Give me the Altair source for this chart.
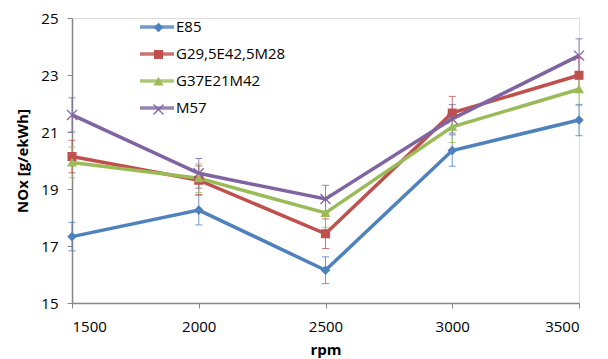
import altair as alt
import pandas as pd

rpm = [1500, 2000, 2500, 3000, 3500]
series = ["E85", "G29,5E42,5M28", "G37E21M42", "M57"]
e85 = [17.33, 18.26, 16.15, 20.35, 21.42]
g29 = [20.14, 19.31, 17.43, 21.67, 22.99]
g37 = [19.93, 19.38, 18.16, 21.18, 22.50]
m57 = [21.60, 19.55, 18.65, 21.46, 23.68]
e85_err = [0.50, 0.52, 0.47, 0.55, 0.55]
g29_err = [0.57, 0.50, 0.52, 0.58, 0.60]
g37_err = [0.54, 0.50, 0.50, 0.55, 0.58]
m57_err = [0.60, 0.52, 0.48, 0.50, 0.59]
y_ticks = [15, 17, 19, 21, 23, 25]
colors = ["#4F81BD", "#C0504D", "#9BBB59", "#8064A2"]
shapes = ["diamond", "square", "triangle-up", "M-1.3,-1.3L1.3,1.3M-1.3,1.3L1.3,-1.3"]

# marker keys (distinct from line keys so the two legends stay separate)
marker_keys = [s + " " for s in series]

rows = []
for name, mk, vals, errs in zip(series, marker_keys, [e85, g29, g37, m57],
                                [e85_err, g29_err, g37_err, m57_err]):
    for r, v, e in zip(rpm, vals, errs):
        rows.append({"rpm": r, "nox": v, "lo": v - e, "hi": v + e,
                     "series": name, "series2": mk})
df = pd.DataFrame(rows)

FONT = "Open Sans"
GRAY = "#868686"

cscale = alt.Scale(domain=series, range=colors)

x = alt.X("rpm:Q", scale=alt.Scale(domain=[1500, 3500], nice=False, zero=False),
          axis=alt.Axis(values=rpm, format="d", title="rpm", grid=False,
                        domainColor=GRAY, tickColor=GRAY, tickSize=5, domainWidth=1.5,
                        labelFont=FONT, labelFontSize=15, labelColor="black", labelPadding=11,
                        titleFont=FONT, titleFontSize=15, titleFontWeight="bold",
                        titleColor="black", titlePadding=8))
y_axis = alt.Axis(values=y_ticks, title="NOx [g/ekWh]", grid=False,
                  domainColor=GRAY, tickColor=GRAY, tickSize=5, domainWidth=1.5,
                  labelFont=FONT, labelFontSize=15, labelColor="black", labelPadding=9,
                  titleFont=FONT, titleFontSize=15, titleFontWeight="bold",
                  titleColor="black", titlePadding=10)
yscale = alt.Scale(domain=[15, 25], nice=False, zero=False)

base = alt.Chart(df)

err_rule = base.mark_rule(strokeWidth=1, opacity=0.8).encode(
    x=x,
    y=alt.Y("lo:Q", scale=yscale, axis=y_axis),
    y2="hi:Q",
    color=alt.Color("series:N", scale=cscale),
)
cap_lo = base.mark_tick(orient="horizontal", size=7, thickness=1, opacity=0.8).encode(
    x=x, y=alt.Y("lo:Q", scale=yscale, axis=y_axis),
    color=alt.Color("series:N", scale=cscale),
)
cap_hi = base.mark_tick(orient="horizontal", size=7, thickness=1, opacity=0.8).encode(
    x=x, y=alt.Y("hi:Q", scale=yscale, axis=y_axis),
    color=alt.Color("series:N", scale=cscale),
)

lines = base.mark_line(strokeWidth=3.5).encode(
    x=x,
    y=alt.Y("nox:Q", scale=yscale, axis=y_axis),
    color=alt.Color("series:N", scale=cscale,
                    legend=alt.Legend(title=None, orient="none", legendX=66, legendY=-10,
                                      symbolType="stroke", symbolSize=1156,
                                      symbolStrokeWidth=3.5, labelFont=FONT,
                                      labelFontSize=15, labelColor="black",
                                      labelOffset=0, rowPadding=0, padding=0)),
)

mleg = alt.Legend(title=None, orient="none", legendX=79, legendY=2,
                  symbolSize=60, symbolStrokeWidth=1.3, labelFont=FONT,
                  labelFontSize=15, labelExpr="' '", labelOffset=3,
                  rowPadding=11, padding=0)
mscale_c = alt.Scale(domain=marker_keys, range=colors)
points = base.mark_point(filled=True, size=60, strokeWidth=1.3, opacity=1).encode(
    x=x,
    y=alt.Y("nox:Q", scale=yscale, axis=y_axis),
    fill=alt.Fill("series2:N", scale=mscale_c, legend=mleg),
    stroke=alt.Stroke("series2:N", scale=mscale_c, legend=mleg),
    shape=alt.Shape("series2:N", scale=alt.Scale(domain=marker_keys, range=shapes), legend=mleg),
)

chart = alt.layer(err_rule, cap_lo, cap_hi, lines, points).properties(
    width=507, height=285,
    autosize=alt.AutoSizeParams(type="none"),
    padding={"left": 64, "top": 10, "right": 21, "bottom": 56},
).configure_view(stroke=None).configure(background="white")

chart.save("out.html", embed_options={"renderer": "svg", "actions": False})
